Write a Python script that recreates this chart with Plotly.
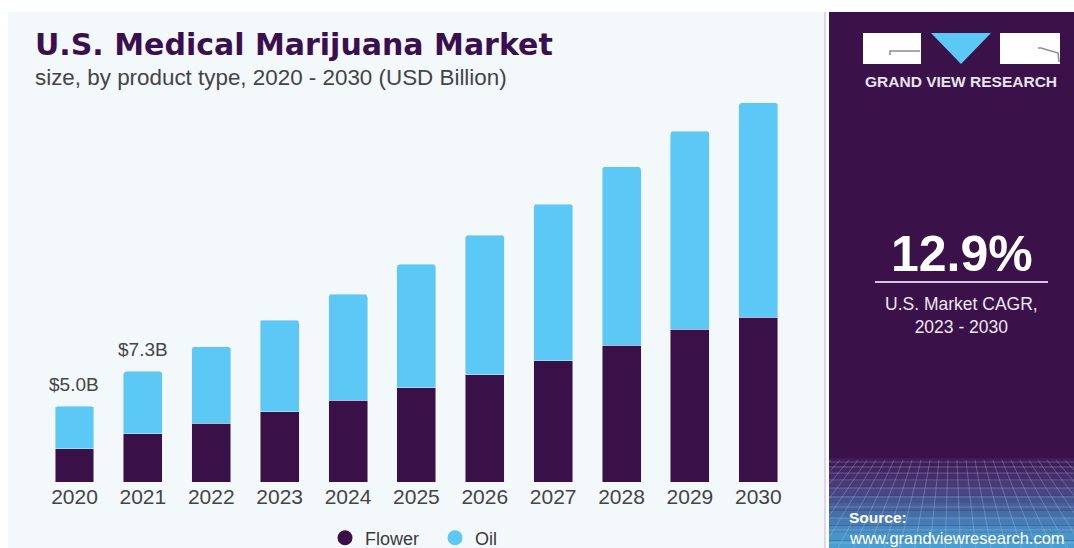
import plotly.graph_objects as go

years = ["2020", "2021", "2022", "2023", "2024", "2025", "2026", "2027", "2028", "2029", "2030"]
flower = [2.18, 3.17, 3.87, 4.64, 5.39, 6.22, 7.08, 7.99, 9.04, 10.10, 10.87]
oil = [2.82, 4.13, 5.06, 6.05, 7.02, 8.15, 9.22, 10.34, 11.77, 13.07, 14.17]
label_years = ["2020", "2021"]
label_texts = ["$5.0B", "$7.3B"]
cagr_value = "12.9%"
cagr_caption = "U.S. Market CAGR,<br>2023 - 2030"

W, H = 1074, 548
DARK = "#3a1048"
BLUE = "#5bc8f5"
PANEL = "#3a1249"


def px(x):
    return x / W


def py(y):
    return 1 - y / H


fig = go.Figure()
fig.add_trace(go.Bar(x=years, y=flower, name="Flower", marker_color=DARK,
                     showlegend=False, hoverinfo="skip"))
fig.add_trace(go.Bar(x=years, y=oil, name="Oil", marker_color=BLUE,
                     showlegend=False, hoverinfo="skip"))
# legend entries with round markers
fig.add_trace(go.Scatter(x=[None], y=[None], mode="markers", name="Flower",
                         marker=dict(color=DARK, size=15, symbol="circle")))
fig.add_trace(go.Scatter(x=[None], y=[None], mode="markers", name="Oil",
                         marker=dict(color=BLUE, size=15, symbol="circle")))

totals = [f + o for f, o in zip(flower, oil)]
annotations = []
for yr, txt in zip(label_years, label_texts):
    i = years.index(yr)
    annotations.append(dict(x=i, y=totals[i], xref="x", yref="y", text=txt,
                            showarrow=False, yanchor="bottom", yshift=9,
                            font=dict(family="Liberation Sans, Arial", size=19, color="#454545")))

# titles
annotations.append(dict(x=px(33), y=py(45), xref="paper", yref="paper", xanchor="left",
                        yanchor="middle", showarrow=False,
                        text="<b>U.S. Medical Marijuana Market</b>",
                        font=dict(family="DejaVu Sans", size=30, color="#3b0f4f")))
annotations.append(dict(x=px(33), y=py(77), xref="paper", yref="paper", xanchor="left",
                        yanchor="middle", showarrow=False,
                        text="size, by product type, 2020 - 2030 (USD Billion)",
                        font=dict(family="Liberation Sans, Arial", size=22.4, color="#444444")))

# right panel texts
annotations.append(dict(x=px(961), y=py(82), xref="paper", yref="paper", xanchor="center",
                        yanchor="middle", showarrow=False, text="<b>GRAND VIEW RESEARCH</b>",
                        font=dict(family="Liberation Sans, Arial", size=15.5, color="#e8e4ee")))
annotations.append(dict(x=px(962), y=py(254), xref="paper", yref="paper", xanchor="center",
                        yanchor="middle", showarrow=False, text="<b>" + cagr_value + "</b>",
                        font=dict(family="Liberation Sans, Arial", size=50, color="#ffffff")))
annotations.append(dict(x=px(961), y=py(315), xref="paper", yref="paper", xanchor="center",
                        yanchor="middle", showarrow=False, text=cagr_caption,
                        font=dict(family="Liberation Sans, Arial", size=17.5, color="#eee6f4")))
annotations.append(dict(x=px(847), y=py(517), xref="paper", yref="paper", xanchor="left",
                        yanchor="middle", showarrow=False, text="<b>Source:</b>",
                        font=dict(family="Liberation Sans, Arial", size=15.5, color="#ffffff")))
annotations.append(dict(x=px(847), y=py(538), xref="paper", yref="paper", xanchor="left",
                        yanchor="middle", showarrow=False, text="www.grandviewresearch.com",
                        font=dict(family="Liberation Sans, Arial", size=16.5, color="#ffffff")))

shapes = []
# light chart background
shapes.append(dict(type="rect", xref="paper", yref="paper", x0=px(8), x1=px(824), y0=0, y1=py(12),
                   fillcolor="#f3f8fb", line_width=0, layer="below"))
shapes.append(dict(type="rect", xref="paper", yref="paper", x0=px(824), x1=px(826), y0=0, y1=py(12),
                   fillcolor="#e2d4ec", line_width=0, layer="below"))
# dark panel
PL = 829
shapes.append(dict(type="rect", xref="paper", yref="paper", x0=px(PL), x1=1, y0=0, y1=py(12),
                   fillcolor=PANEL, line_width=0, layer="below"))
# textured gradient at bottom of panel
grad = ["#3f1c58", "#432563", "#462e6d", "#483978", "#484683", "#47538f", "#46609b",
        "#466ea8", "#467cb4", "#4789bf", "#4895c9", "#4a9fd2"]
y_start, y_end = 458, 548
step = (y_end - y_start) / len(grad)
for i, c in enumerate(grad):
    shapes.append(dict(type="rect", xref="paper", yref="paper", x0=px(PL), x1=1,
                       y0=py(y_start + (i + 1) * step), y1=py(y_start + i * step),
                       fillcolor=c, line_width=0, layer="below"))
grid_col = "rgba(190,215,245,0.28)"
for yy in [462, 467, 473, 480, 488, 497, 507, 518, 530, 543]:
    shapes.append(dict(type="line", xref="paper", yref="paper", x0=px(PL), x1=1,
                       y0=py(yy), y1=py(yy), line=dict(color=grid_col, width=1), layer="below"))
top_y, bot_y = 460, 548
for xt in range(831, 1075, 9):
    xb = 952 + (xt - 952) * 1.7
    y_b = bot_y
    if xb < PL:
        t = (PL - xt) / (xb - xt)
        y_b = top_y + t * (bot_y - top_y)
        xb = PL
    shapes.append(dict(type="line", xref="paper", yref="paper", x0=px(xt), x1=px(xb),
                       y0=py(top_y), y1=py(y_b), line=dict(color=grid_col, width=1), layer="below"))
# CAGR separator line
shapes.append(dict(type="line", xref="paper", yref="paper", x0=px(875), x1=px(1048),
                   y0=py(282), y1=py(282), line=dict(color="#d9bfe6", width=2)))
# logo
shapes.append(dict(type="rect", xref="paper", yref="paper", x0=px(863), x1=px(921),
                   y0=py(64), y1=py(33), fillcolor="#ffffff", line_width=0))
shapes.append(dict(type="path", xref="paper", yref="paper",
                   path=f"M {px(931)} {py(33)} L {px(991)} {py(33)} L {px(961)} {py(64)} Z",
                   fillcolor="#5bc8f5", line_width=0))
shapes.append(dict(type="rect", xref="paper", yref="paper", x0=px(1000), x1=px(1060),
                   y0=py(64), y1=py(33), fillcolor="#ffffff", line_width=0))
shapes.append(dict(type="path", xref="paper", yref="paper",
                   path=f"M {px(890)} {py(55)} L {px(890)} {py(51)} L {px(920)} {py(51)}",
                   line=dict(color="#8a8a96", width=1.5)))
shapes.append(dict(type="path", xref="paper", yref="paper",
                   path=f"M {px(1038)} {py(48)} L {px(1041)} {py(48)} L {px(1058)} {py(53)} L {px(1059)} {py(62)}",
                   line=dict(color="#8a8a96", width=1.5)))

fig.update_layout(
    width=W, height=H,
    margin=dict(l=0, r=0, t=0, b=0, autoexpand=False),
    paper_bgcolor="#ffffff",
    plot_bgcolor="rgba(0,0,0,0)",
    barmode="stack",
    bargap=0.43,
    barcornerradius=3,
    showlegend=True,
    legend=dict(orientation="h", x=px(325), y=py(538), xanchor="left", yanchor="middle",
                traceorder="normal",
                bgcolor="rgba(0,0,0,0)", font=dict(family="Liberation Sans, Arial", size=18, color="#3a3a3a"),
                entrywidth=65, itemclick=False, itemdoubleclick=False),
    xaxis=dict(domain=[px(40.3), px(792.5)], type="category", range=[-0.5, 10.5],
               showgrid=False, showline=False, zeroline=False, ticks="",
               tickfont=dict(family="Liberation Sans, Arial", size=21, color="#444444"),
               fixedrange=True),
    yaxis=dict(domain=[py(482), py(73)], range=[0, 27], visible=False, showgrid=False,
               zeroline=False, fixedrange=True),
    annotations=annotations,
    shapes=shapes,
)

fig.write_html("out.html")
